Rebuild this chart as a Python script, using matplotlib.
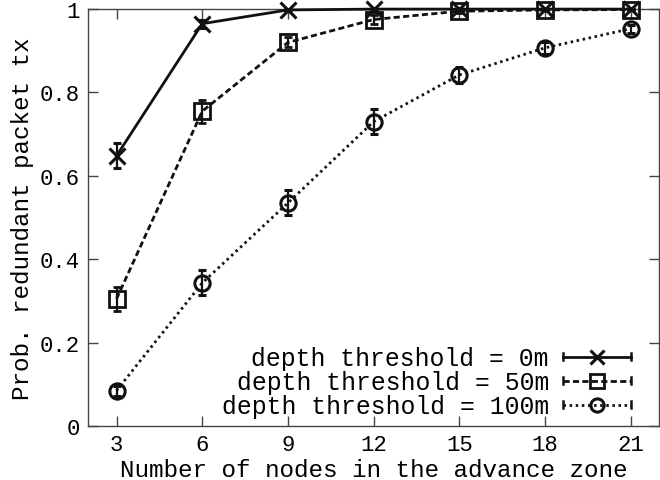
import matplotlib
matplotlib.use("Agg")
import matplotlib.pyplot as plt
from matplotlib.lines import Line2D
from matplotlib.legend_handler import HandlerLine2D

nodes = [3, 6, 9, 12, 15, 18, 21]
labels = ["depth threshold = 0m", "depth threshold = 50m", "depth threshold = 100m"]
p_0m = [0.648, 0.965, 0.998, 1.0, 1.0, 1.0, 1.0]
e_0m = [0.03, 0.01, 0.003, 0.0, 0.0, 0.0, 0.0]
p_50m = [0.305, 0.755, 0.92, 0.975, 0.995, 0.998, 0.999]
e_50m = [0.028, 0.028, 0.012, 0.01, 0.005, 0.003, 0.002]
p_100m = [0.085, 0.343, 0.535, 0.73, 0.842, 0.907, 0.953]
e_100m = [0.012, 0.03, 0.03, 0.03, 0.02, 0.015, 0.01]
yticks = [0, 0.2, 0.4, 0.6, 0.8, 1]
xticks = [3, 6, 9, 12, 15, 18, 21]

FONT = "Liberation Mono"
plt.rcParams['font.family'] = [FONT, 'DejaVu Sans']

fig = plt.figure(figsize=(6.6, 4.81), dpi=100)
ax = fig.add_axes([0.1333, 0.1123, 0.8655, 0.8667])

styles = [
    dict(ls='-', marker='x', ms=12, mew=2.2),
    dict(ls=(0, (2.2, 1.2)), marker='s', ms=12, mew=2.0),
    dict(ls=(0, (0.9, 1.3)), marker='o', ms=11, mew=2.2),
]
series = [(p_100m, e_100m), (p_50m, e_50m), (p_0m, e_0m)]
order = [2, 1, 0]
handles = [None, None, None]
for idx, (vals, errs) in zip(order, series):
    st = styles[idx]
    ax.errorbar(nodes, vals, yerr=errs, color='#111111', lw=2.0, ls=st['ls'],
                marker=st['marker'], ms=st['ms'], mew=st['mew'], mfc='none',
                mec='#111111', ecolor='#111111', elinewidth=1.6, capsize=3,
                capthick=1.6, zorder=3 + (2 - idx), clip_on=False)
    handles[idx] = Line2D([], [], color='#111111', lw=2.0, ls=st['ls'],
                          marker=st['marker'], ms=st['ms'] - 1.5, mew=st['mew'],
                          mfc='none', mec='#111111')


class HandlerCapped(HandlerLine2D):
    def create_artists(self, legend, orig_handle, xdescent, ydescent, width,
                       height, fontsize, trans):
        arts = super().create_artists(legend, orig_handle, xdescent, ydescent,
                                      width, height, fontsize, trans)
        y = height / 2 - ydescent
        for x in (-xdescent, width - xdescent):
            cap = Line2D([x, x], [y - 2.5, y + 2.5], color='#111111', lw=1.8,
                         transform=trans)
            arts.append(cap)
        return arts


leg = ax.legend(handles, labels, loc='lower right', markerfirst=False,
                frameon=False, fontsize=17.8, handlelength=2.75,
                handletextpad=0.57, labelspacing=0.0, borderaxespad=0.0,
                bbox_to_anchor=(0.968, -0.005),
                handler_map={Line2D: HandlerCapped(numpoints=1)})

ax.set_xlim(2, 22)
ax.set_ylim(0, 1)
ax.set_xticks(xticks)
ax.set_xticklabels([str(v) for v in xticks])
ax.set_yticks(yticks)
ax.set_yticklabels([f"{v:g}" for v in yticks])
ax.tick_params(direction='in', length=7, width=1.0, top=True, right=True,
               labelsize=16, color='#444444', pad=6)
for sp in ax.spines.values():
    sp.set_color('#444444')
    sp.set_linewidth(1.0)
ax.set_xlabel("Number of nodes in the advance zone", fontsize=17.5, labelpad=2)
ax.set_ylabel("Prob. redundant packet tx", fontsize=17.5, labelpad=4)

fig.savefig("out.png", dpi=100)
